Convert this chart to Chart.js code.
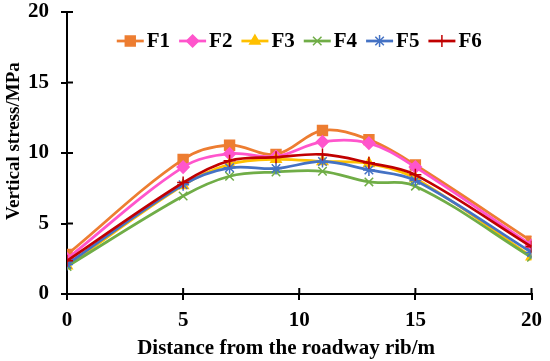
<!DOCTYPE html>
<html>
<head>
<meta charset="utf-8">
<script src="https://cdn.jsdelivr.net/npm/chart.js@4/dist/chart.umd.min.js"></script>
<style>
  html, body { margin: 0; padding: 0; background: #fff; }
  #wrap { width: 550px; height: 361px; }
</style>
</head>
<body>
<div id="wrap"><canvas id="stressChart"></canvas></div>
<script>
/* Data */
const distances = [0, 5, 7, 9, 11, 13, 15, 20];
const seriesNames = ["F1", "F2", "F3", "F4", "F5", "F6"];
const f1 = [2.8, 9.55, 10.55, 9.9, 11.6, 10.95, 9.15, 3.75];
const f2 = [2.5, 9.0, 9.95, 9.75, 10.8, 10.7, 9.0, 3.45];
const f3 = [2.0, 7.7, 9.2, 9.55, 9.4, 9.25, 8.2, 2.65];
const f4 = [1.95, 6.95, 8.35, 8.65, 8.7, 7.95, 7.65, 2.6];
const f5 = [2.1, 7.75, 8.95, 8.9, 9.4, 8.8, 8.05, 2.95];
const f6 = [2.35, 7.9, 9.45, 9.7, 9.9, 9.3, 8.45, 3.35];
const yTicks = [0, 5, 10, 15, 20];
const xTicks = [0, 5, 10, 15, 20];

const allSeries = [f1, f2, f3, f4, f5, f6];
const colors = ["#ED7D31", "#FF55CC", "#FFC000", "#70AD47", "#4472C4", "#C00000"];
const markers = ["rect", "rectRot", "triangle", "crossRot", "star", "cross"];
const markerSize = [7, 6, 6, 6, 6, 6];

const serif = "'Times New Roman', 'Liberation Serif', serif";

const datasets = seriesNames.map((name, i) => ({
  label: name,
  data: distances.map((d, j) => ({ x: d, y: allSeries[i][j] })),
  borderColor: colors[i],
  backgroundColor: colors[i],
  pointBackgroundColor: colors[i],
  pointBorderColor: colors[i],
  pointStyle: markers[i],
  pointRadius: markerSize[i],
  pointBorderWidth: 1.5,
  borderWidth: 2.75,
  tension: 0.35,
  order: seriesNames.length - i,
}));

/* ticks that cross the axis line */
const innerTicks = {
  id: "innerTicks",
  afterDraw(chart) {
    const { ctx, chartArea, scales } = chart;
    ctx.save();
    ctx.strokeStyle = "#000";
    ctx.lineWidth = 2;
    ctx.beginPath();
    scales.x.ticks.forEach((t) => {
      const px = scales.x.getPixelForValue(t.value);
      ctx.moveTo(px, chartArea.bottom);
      ctx.lineTo(px, chartArea.bottom - 6);
    });
    scales.y.ticks.forEach((t) => {
      const py = scales.y.getPixelForValue(t.value);
      ctx.moveTo(chartArea.left, py);
      ctx.lineTo(chartArea.left + 6, py);
    });
    ctx.stroke();
    ctx.restore();
  },
};

/* legend inside the plot, line + marker like the original */
const lineLegend = {
  id: "lineLegend",
  afterDraw(chart) {
    const { ctx, chartArea } = chart;
    const sample = 27;
    const gapText = 3;
    const gapItem = 9;
    ctx.save();
    ctx.font = "bold 21px " + serif;
    ctx.textBaseline = "middle";
    const items = chart.data.datasets.map((ds) => ({ ds, w: ctx.measureText(ds.label).width }));
    const total = items.reduce((s, it) => s + sample + gapText + it.w, 0) + gapItem * (items.length - 1);
    let x = (chartArea.left + chartArea.right) / 2 - total / 2;
    const y = chartArea.top + 29;
    items.forEach(({ ds, w }) => {
      ctx.strokeStyle = ds.borderColor;
      ctx.fillStyle = ds.backgroundColor;
      ctx.lineWidth = 2.75;
      ctx.beginPath();
      ctx.moveTo(x, y);
      ctx.lineTo(x + sample, y);
      ctx.stroke();
      ctx.lineWidth = 1.5;
      Chart.helpers.drawPoint(ctx, { pointStyle: ds.pointStyle, radius: ds.pointRadius, borderWidth: 1.5, rotation: 0 }, x + sample / 2, y);
      ctx.fillStyle = "#000";
      ctx.fillText(ds.label, x + sample + gapText, y + 1);
      x += sample + gapText + w + gapItem;
    });
    ctx.restore();
  },
};

const ctxStress = document.getElementById("stressChart").getContext("2d");

const stressChart = new Chart(ctxStress, {
  type: "line",
  data: { datasets },
  options: {
    responsive: true,
    maintainAspectRatio: false,
    animation: false,
    layout: { padding: { top: 0, right: 17, left: 0, bottom: 0 } },
    plugins: {
      legend: { display: false },
      tooltip: { enabled: false },
    },
    scales: {
      x: {
        type: "linear",
        min: 0,
        max: 20,
        afterBuildTicks: (scale) => {
          scale.ticks = xTicks.map((v) => ({ value: v }));
        },
        afterFit: (scale) => {
          scale.height = 67;
        },
        border: { color: "#000", width: 2 },
        grid: { drawOnChartArea: false, color: "#000", lineWidth: 2, tickLength: 6 },
        ticks: { color: "#000", font: { family: serif, size: 21, weight: "bold" }, padding: 8, maxRotation: 0 },
        title: {
          display: true,
          text: "Distance from the roadway rib/m     ",
          color: "#000",
          font: { family: serif, size: 21, weight: "bold" },
          padding: 0,
        },
      },
      y: {
        min: 0,
        max: 20,
        afterBuildTicks: (scale) => {
          scale.ticks = yTicks.map((v) => ({ value: v }));
        },
        afterFit: (scale) => {
          scale.width = 67;
          scale.paddingTop = 12;
          scale.paddingBottom = 0;
        },
        border: { color: "#000", width: 2 },
        grid: { drawOnChartArea: false, color: "#000", lineWidth: 2, tickLength: 6 },
        ticks: { color: "#000", font: { family: serif, size: 21, weight: "bold" }, padding: 12 },
        title: {
          display: true,
          text: "     Vertical stress/MPa",
          color: "#000",
          font: { family: serif, size: 19, weight: "bold" },
          padding: { top: 3 },
        },
      },
    },
  },
  plugins: [innerTicks, lineLegend],
});
</script>
</body>
</html>
